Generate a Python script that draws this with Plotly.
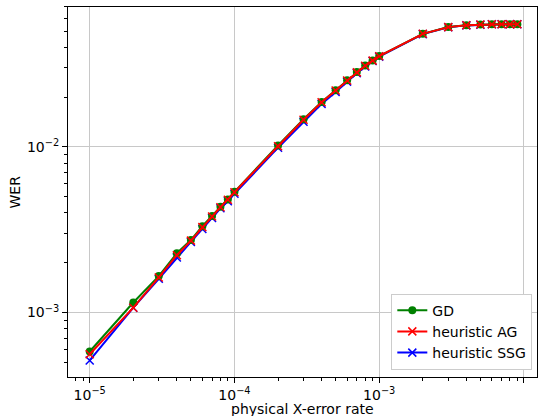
import plotly.graph_objects as go

# physical X-error rates
p = [1e-5, 2e-5, 3e-5, 4e-5, 5e-5, 6e-5, 7e-5, 8e-5, 9e-5,
     1e-4, 2e-4, 3e-4, 4e-4, 5e-4, 6e-4, 7e-4, 8e-4, 9e-4,
     1e-3, 2e-3, 3e-3, 4e-3, 5e-3, 6e-3, 7e-3, 8e-3, 9e-3]

wer_gd = [5.82e-4, 1.15e-3, 1.66e-3, 2.28e-3, 2.74e-3, 3.32e-3, 3.83e-3, 4.36e-3, 4.82e-3,
          5.36e-3, 1.02e-2, 1.47e-2, 1.87e-2, 2.20e-2, 2.53e-2, 2.83e-2, 3.10e-2, 3.33e-2,
          3.54e-2, 4.82e-2, 5.30e-2, 5.43e-2, 5.48e-2, 5.50e-2, 5.51e-2, 5.51e-2, 5.51e-2]

wer_ag = [5.60e-4, 1.07e-3, 1.63e-3, 2.22e-3, 2.72e-3, 3.28e-3, 3.80e-3, 4.33e-3, 4.80e-3,
          5.33e-3, 1.01e-2, 1.46e-2, 1.86e-2, 2.19e-2, 2.52e-2, 2.82e-2, 3.09e-2, 3.32e-2,
          3.53e-2, 4.82e-2, 5.29e-2, 5.43e-2, 5.48e-2, 5.50e-2, 5.51e-2, 5.51e-2, 5.51e-2]

wer_ssg = [5.14e-4, 1.07e-3, 1.60e-3, 2.15e-3, 2.67e-3, 3.20e-3, 3.72e-3, 4.26e-3, 4.70e-3,
           5.22e-3, 9.90e-3, 1.42e-2, 1.82e-2, 2.15e-2, 2.48e-2, 2.79e-2, 3.06e-2, 3.30e-2,
           3.51e-2, 4.80e-2, 5.28e-2, 5.42e-2, 5.47e-2, 5.50e-2, 5.51e-2, 5.51e-2, 5.51e-2]

x_major = [1e-5, 1e-4, 1e-3, 1e-2]
x_labels = ["10<sup>\u22125</sup>", "10<sup>\u22124</sup>", "10<sup>\u22123</sup>", "10<sup>\u22122</sup>"]
y_major = [1e-3, 1e-2]
y_labels = ["10<sup>\u22123</sup>", "10<sup>\u22122</sup>"]
x_minor = [m * 10.0 ** e for e in (-6, -5, -4, -3, -2) for m in range(2, 10)]
y_minor = [m * 10.0 ** e for e in (-4, -3, -2) for m in range(2, 10)]

FONT = "DejaVu Sans"

fig = go.Figure()
fig.add_trace(go.Scatter(
    x=p, y=wer_ssg, name="heuristic SSG", mode="lines+markers", legendrank=3,
    line=dict(color="#0000ff", width=2),
    marker=dict(symbol="x-thin", size=8, line=dict(color="#0000ff", width=1.5), color="#0000ff")))
fig.add_trace(go.Scatter(
    x=p, y=wer_gd, name="GD", mode="lines+markers", legendrank=1,
    line=dict(color="#008000", width=2),
    marker=dict(symbol="circle", size=8, color="#008000")))
fig.add_trace(go.Scatter(
    x=p, y=wer_ag, name="heuristic AG", mode="lines+markers", legendrank=2,
    line=dict(color="#ff0000", width=2),
    marker=dict(symbol="x-thin", size=8, line=dict(color="#ff0000", width=1.5), color="#ff0000")))

axis_common = dict(
    type="log", showline=True, linecolor="black", linewidth=1, mirror=True,
    ticks="outside", ticklen=5, tickwidth=1, tickcolor="black",
    showgrid=True, gridcolor="#c8c8c8", gridwidth=1, zeroline=False,
    automargin=False, tickfont=dict(family=FONT, size=14, color="black"),
)

fig.update_xaxes(
    **axis_common, range=[-5.150, -1.910], tickmode="array", tickvals=x_major, ticktext=x_labels,
    minor=dict(tickvals=x_minor, ticks="outside", ticklen=3, tickcolor="black", showgrid=False),
)
fig.update_yaxes(
    **axis_common, range=[-3.389, -1.155], tickmode="array", tickvals=y_major, ticktext=y_labels,
    minor=dict(tickvals=y_minor, ticks="outside", ticklen=3, tickcolor="black", showgrid=False),
)

fig.add_annotation(text="physical X-error rate", xref="paper", yref="paper",
                   x=0.5, y=-0.087, xanchor="center", yanchor="middle", showarrow=False,
                   font=dict(family=FONT, size=14, color="black"))
fig.add_annotation(text="WER", xref="paper", yref="paper", textangle=-90,
                   x=-0.112, y=0.5, xanchor="center", yanchor="middle", showarrow=False,
                   font=dict(family=FONT, size=14, color="black"))

fig.update_layout(
    width=540, height=416,
    margin=dict(l=68, r=3, t=7, b=39),
    paper_bgcolor="white", plot_bgcolor="white",
    font=dict(family=FONT, size=14, color="black"),
    showlegend=True,
    legend=dict(x=0.99, y=0.02, xanchor="right", yanchor="bottom",
                bgcolor="white", bordercolor="#cccccc", borderwidth=1,
                font=dict(family=FONT, size=14, color="black")),
)

fig.write_html("out.html", config={"displayModeBar": False},
               post_script="document.body.style.margin='0';document.body.style.overflow='hidden';")
